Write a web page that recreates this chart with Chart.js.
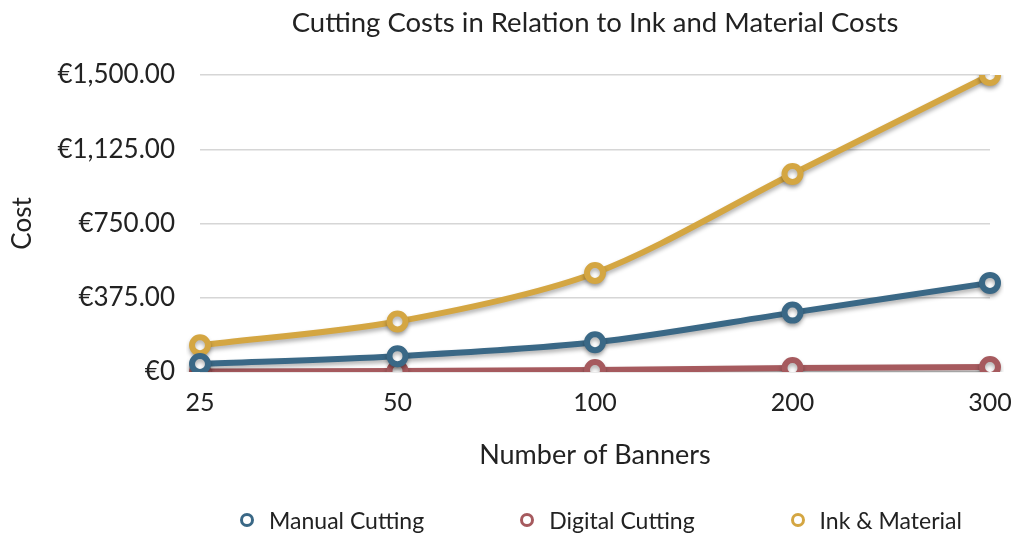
<!DOCTYPE html>
<html lang="en">
<head>
    <meta charset="UTF-8">
    <title>Cutting Costs</title>
    <script src="https://cdn.jsdelivr.net/npm/chart.js"></script>
    <style>
        body {
            margin: 0;
            background: #fff;
            font-family: 'Lato', sans-serif;
        }

        .wrap {
            position: relative;
            width: 1016px;
            height: 536px;
        }

        .legend {
            position: absolute;
            left: 206px;
            width: 790px;
            top: 506px;
            display: flex;
            justify-content: center;
            gap: 96px;
            font-size: 23px;
            color: #222;
        }

        .legend span.dot {
            display: inline-block;
            width: 8px;
            height: 8px;
            border-radius: 50%;
            border: 3.5px solid;
            margin-right: 15px;
            vertical-align: 2px;
        }
    </style>
</head>
<body>

<div class="wrap">
    <canvas id="costChart" width="1016" height="536"></canvas>
    <div class="legend" id="legend"></div>
</div>

<script>
    const banners = ['25', '50', '100', '200', '300'];
    const manualCutting = [40, 80, 150, 300, 450];
    const digitalCutting = [2, 5, 10, 20, 25];
    const inkMaterial = [135, 255, 500, 1000, 1500];
    const yTickLabels = ['€0', '€375.00', '€750.00', '€1,125.00', '€1,500.00'];

    const seriesNames = ['Manual Cutting', 'Digital Cutting', 'Ink & Material'];
    const seriesColors = ['#3a6886', '#a65a5e', '#d4a642'];

    const font = "'Lato', sans-serif";

    // soft drop shadow under the lines
    const shadowPlugin = {
        id: 'shadow',
        beforeDatasetsDraw(chart) {
            const c = chart.ctx;
            c.save();
            c.shadowColor = 'rgba(0, 0, 0, 0.3)';
            c.shadowBlur = 4;
            c.shadowOffsetY = 3;
        },
        afterDatasetsDraw(chart) {
            chart.ctx.restore();
        }
    };

    // center the title over the plot area instead of the whole canvas
    const titleCenter = {
        id: 'titleCenter',
        afterLayout(chart) {
            chart.titleBlock.left = chart.chartArea.left;
            chart.titleBlock.right = chart.chartArea.right;
        }
    };

    function makeSet(i, data) {
        return {
            label: seriesNames[i],
            data: data,
            borderColor: seriesColors[i],
            backgroundColor: '#fff',
            pointBackgroundColor: '#fff',
            pointBorderColor: seriesColors[i],
            borderWidth: 6,
            pointRadius: 8,
            pointBorderWidth: 6,
            tension: 0.3,
            fill: false
        };
    }

    new Chart(document.getElementById('costChart'), {
        type: 'line',
        data: {
            labels: banners,
            datasets: [
                makeSet(0, manualCutting),
                makeSet(1, digitalCutting),
                makeSet(2, inkMaterial)
            ]
        },
        plugins: [shadowPlugin, titleCenter],
        options: {
            responsive: false,
            animation: false,
            layout: {
                padding: { left: 0, right: 26, top: 0, bottom: 54 }
            },
            plugins: {
                legend: { display: false },
                tooltip: { enabled: false },
                title: {
                    display: true,
                    text: 'Cutting Costs in Relation to Ink and Material Costs',
                    color: '#222',
                    font: { family: font, size: 27.5, weight: 'normal' },
                    padding: { top: 7, bottom: 35 }
                }
            },
            scales: {
                x: {
                    offset: false,
                    grid: { display: false },
                    border: { display: false },
                    ticks: {
                        color: '#222',
                        padding: 8,
                        font: { family: font, size: 25 }
                    },
                    title: {
                        display: true,
                        text: 'Number of Banners',
                        color: '#222',
                        font: { family: font, size: 27 },
                        padding: { top: 0, bottom: 11 }
                    },
                    afterFit(scale) {
                        scale.height = 110;
                        scale.paddingLeft = 0;
                        scale.paddingRight = 0;
                    }
                },
                y: {
                    min: 0,
                    max: 1500,
                    grid: { color: '#d6d6d6', lineWidth: 1.5, drawTicks: false },
                    border: { display: false },
                    ticks: {
                        stepSize: 375,
                        color: '#222',
                        padding: 25,
                        font: { family: font, size: 26 },
                        callback: (v, i) => yTickLabels[i]
                    },
                    title: {
                        display: true,
                        text: 'Cost',
                        color: '#222',
                        font: { family: font, size: 26 },
                        padding: { top: 7, bottom: 0 }
                    },
                    afterFit(scale) { scale.width = 200; }
                }
            }
        }
    });

    // html legend
    const legend = document.getElementById('legend');
    seriesNames.forEach((name, i) => {
        const item = document.createElement('div');
        item.innerHTML = '<span class="dot" style="border-color:' + seriesColors[i] + '"></span>' + name;
        legend.appendChild(item);
    });
</script>

</body>
</html>
